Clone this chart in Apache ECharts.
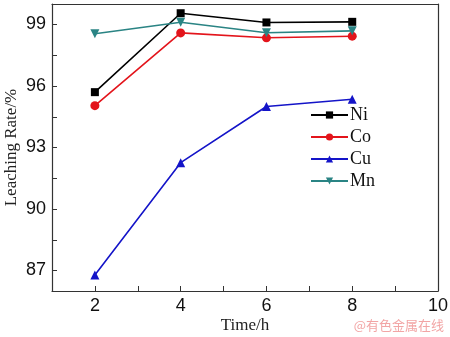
<!DOCTYPE html>
<html>
<head>
<meta charset="utf-8">
<script src="https://cdn.jsdelivr.net/npm/echarts@6/dist/echarts.min.js"></script>
<style>
  html, body { margin: 0; padding: 0; background: #fff; }
  #chart { width: 450px; height: 337px; }
</style>
</head>
<body>
<div id="chart"></div>
<script>
// Leaching time (h)
const times = [2, 4, 6, 8];
// Leaching rate (%) for each metal
const niRate = [95.7, 99.55, 99.1, 99.13];
const coRate = [95.04, 98.59, 98.35, 98.43];
const cuRate = [86.78, 92.26, 95.0, 95.35];
const mnRate = [98.55, 99.11, 98.6, 98.69];
// Labelled and minor tick positions
const yTicks = [87, 90, 93, 96, 99];
const yMinorTicks = [88.5, 91.5, 94.5, 97.5];
const xTicks = [2, 4, 6, 8, 10];

const chart = echarts.init(document.getElementById('chart'));

function pairs(values) {
  return times.map((t, i) => [t, values[i]]);
}

function lineSeries(name, values, color, symbol, rotate) {
  return {
    name: name,
    type: 'line',
    data: pairs(values),
    symbol: symbol,
    symbolSize: symbol === 'rect' ? 8 : 9,
    symbolRotate: rotate || 0,
    showAllSymbol: true,
    lineStyle: { color: color, width: 1.6 },
    itemStyle: { color: color },
    emphasis: { disabled: true }
  };
}

const axisLine = { show: true, lineStyle: { color: '#333', width: 1.2 } };
const serif = '"Liberation Serif", "Times New Roman", serif';
const sans = '"Liberation Sans", Arial, sans-serif';
const yTickValues = yTicks.concat(yMinorTicks).sort((a, b) => a - b);

chart.setOption({
  animation: false,
  backgroundColor: '#fff',
  grid: { left: 52, right: 12, top: 4, bottom: 46, outerBoundsMode: 'none', containLabel: false },
  legend: {
    orient: 'vertical',
    left: 305,
    top: 101,
    itemWidth: 37,
    itemHeight: 9,
    itemGap: 4,
    textStyle: { fontFamily: serif, fontSize: 18, color: '#111', padding: [0, 0, 0, -3] },
    data: ['Ni', 'Co', 'Cu', 'Mn']
  },
  xAxis: [{
    type: 'value',
    min: 1,
    max: 10,
    interval: 1,
    name: 'Time/h',
    nameLocation: 'middle',
    nameGap: 26,
    nameMoveOverlap: false,
    nameTextStyle: { fontFamily: serif, fontSize: 17, color: '#222' },
    axisLine: axisLine,
    axisTick: { show: true, inside: true, length: 5, lineStyle: { color: '#333' } },
    axisLabel: {
      fontFamily: sans, fontSize: 18, color: '#111', margin: 6,
      formatter: v => xTicks.includes(v) ? String(v) : ''
    },
    splitLine: { show: false }
  }, {
    type: 'value',
    position: 'top',
    min: 1,
    max: 10,
    axisLine: axisLine,
    axisTick: { show: false },
    axisLabel: { show: false },
    splitLine: { show: false }
  }],
  yAxis: [{
    type: 'value',
    min: 86,
    max: 100,
    name: 'Leaching Rate/%',
    nameLocation: 'middle',
    nameGap: 32,
    nameMoveOverlap: false,
    nameTextStyle: { fontFamily: serif, fontSize: 17, color: '#222' },
    axisLine: axisLine,
    axisTick: {
      show: true, inside: true, length: 5, lineStyle: { color: '#333' },
      customValues: yTickValues
    },
    axisLabel: {
      fontFamily: sans, fontSize: 18, color: '#111', margin: 6,
      customValues: yTicks
    },
    splitLine: { show: false }
  }, {
    type: 'value',
    position: 'right',
    min: 86,
    max: 100,
    axisLine: axisLine,
    axisTick: { show: false },
    axisLabel: { show: false },
    splitLine: { show: false }
  }],
  graphic: [{
    type: 'text',
    right: 6,
    bottom: 5,
    style: {
      text: '@有色金属在线',
      fontFamily: '"Noto Sans CJK SC", sans-serif',
      fontSize: 13,
      fill: '#f2a5a5'
    }
  }],
  series: [
    lineSeries('Ni', niRate, '#000000', 'rect'),
    lineSeries('Co', coRate, '#e3141b', 'circle'),
    lineSeries('Cu', cuRate, '#1414c8', 'triangle'),
    lineSeries('Mn', mnRate, '#2a8484', 'triangle', 180)
  ]
});
</script>
</body>
</html>
